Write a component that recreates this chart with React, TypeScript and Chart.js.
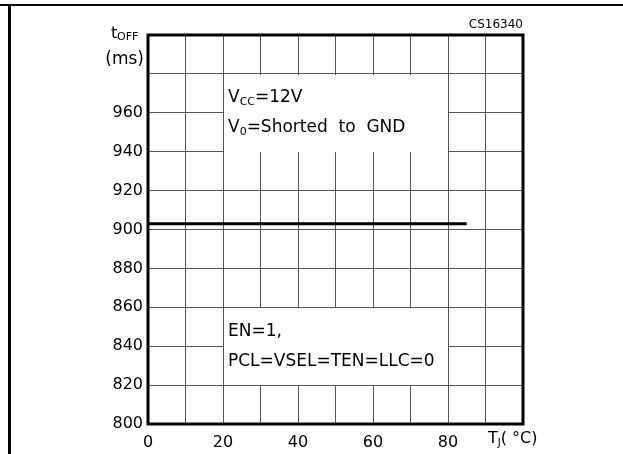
import React, { useEffect, useRef } from 'react';
import { Chart, registerables } from 'chart.js';

Chart.register(...registerables);

// ---- data ----
const temperatures = [0, 85];
const toffValues = [903, 903];
const xTickLabels = [0, 20, 40, 60, 80];
const yTickLabels = [800, 820, 840, 860, 880, 900, 920, 940, 960];
const xRange = [0, 100];
const yRange = [800, 1000];
const figureCode = 'CS16340';

type Part = { t: string; sub?: boolean };
const supplyNote: Part[][] = [
  [{ t: 'V' }, { t: 'CC', sub: true }, { t: '=12V' }],
  [{ t: 'V' }, { t: '0', sub: true }, { t: '=Shorted  to  GND' }],
];
const registerNote: Part[][] = [
  [{ t: 'EN=1,' }],
  [{ t: 'PCL=VSEL=TEN=LLC=0' }],
];

const FONT = "'DejaVu Sans', sans-serif";

function drawParts(ctx: CanvasRenderingContext2D, parts: Part[], x: number, y: number, size: number, subSize: number, subDy: number) {
  let cx = x;
  for (const p of parts) {
    ctx.font = `${p.sub ? subSize : size}px ${FONT}`;
    ctx.fillText(p.t, cx, p.sub ? y + subDy : y);
    cx += ctx.measureText(p.t).width;
  }
}

const annotations = {
  id: 'annotations',
  beforeDatasetsDraw(chart: any) {
    const { ctx, scales } = chart;
    const x = scales.x;
    const y = scales.y;
    const boxes = [
      { x0: 20, x1: 80, y0: 980, y1: 940, lines: supplyNote },
      { x0: 20, x1: 80, y0: 860, y1: 820, lines: registerNote },
    ];
    ctx.save();
    for (const b of boxes) {
      const l = Math.round(x.getPixelForValue(b.x0)) + 1;
      const r = Math.round(x.getPixelForValue(b.x1));
      const t = Math.round(y.getPixelForValue(b.y0)) + 1;
      const bt = Math.round(y.getPixelForValue(b.y1));
      ctx.fillStyle = '#fff';
      ctx.fillRect(l, t, r - l, bt - t);
      const cy = (y.getPixelForValue(b.y0) + y.getPixelForValue(b.y1)) / 2;
      ctx.fillStyle = '#000';
      ctx.textBaseline = 'middle';
      ctx.textAlign = 'left';
      b.lines.forEach((ln, i) => {
        drawParts(ctx, ln, l + 4, cy - 15 + i * 30, 17, 11, 4);
      });
    }
    ctx.restore();
  },
  afterDraw(chart: any) {
    const { ctx, chartArea } = chart;
    const { left, right, top, bottom } = chartArea;
    ctx.save();
    // plot frame
    ctx.strokeStyle = '#000';
    ctx.lineWidth = 3;
    ctx.strokeRect(left, top, right - left, bottom - top);
    // document frame lines
    ctx.lineWidth = 2;
    ctx.beginPath();
    ctx.moveTo(0, 5);
    ctx.lineTo(chart.width, 5);
    ctx.stroke();
    ctx.lineWidth = 3;
    ctx.beginPath();
    ctx.moveTo(9.5, 4);
    ctx.lineTo(9.5, chart.height);
    ctx.stroke();

    ctx.fillStyle = '#000';
    // figure code
    ctx.font = `12px ${FONT}`;
    ctx.textAlign = 'right';
    ctx.textBaseline = 'alphabetic';
    ctx.fillText(figureCode, right, top - 7);

    // y axis title
    ctx.textAlign = 'left';
    ctx.font = `16px ${FONT}`;
    ctx.fillText('t', left - 37, top + 3);
    ctx.font = `11px ${FONT}`;
    ctx.fillText('OFF', left - 31, top + 5);
    ctx.font = `17px ${FONT}`;
    ctx.textAlign = 'right';
    ctx.fillText('(ms)', left - 4, top + 29);

    // x axis title
    ctx.textAlign = 'left';
    drawParts(ctx, [{ t: 'T' }, { t: 'J', sub: true }, { t: '( °C)' }], right - 35, bottom + 19, 16, 10, 3);
    ctx.restore();
  },
};

export default function App() {
  const ref = useRef<HTMLCanvasElement | null>(null);
  useEffect(() => {
    if (!ref.current) return;
    const chart = new Chart(ref.current, {
      type: 'scatter',
      data: {
        datasets: [
          {
            data: temperatures.map((t, i) => ({ x: t, y: toffValues[i] })),
            showLine: true,
            borderColor: '#000',
            borderWidth: 3,
            pointRadius: 0,
            fill: false,
          },
        ],
      },
      options: {
        animation: false,
        responsive: false,
        devicePixelRatio: 1,
        layout: { padding: { top: 35, right: 100, left: 0, bottom: 0 } },
        plugins: { legend: { display: false }, tooltip: { enabled: false } },
        scales: {
          x: {
            type: 'linear',
            min: xRange[0],
            max: xRange[1],
            afterFit: (s: any) => { s.height = 30; },
            border: { display: false },
            grid: { color: '#555', lineWidth: 1, drawTicks: false },
            ticks: {
              stepSize: 10,
              autoSkip: false,
              maxRotation: 0,
              padding: 9,
              color: '#000',
              font: { family: FONT, size: 16 },
              callback: (v: any) => (xTickLabels.includes(Number(v)) ? String(v) : ''),
            },
          },
          y: {
            type: 'linear',
            min: yRange[0],
            max: yRange[1],
            afterFit: (s: any) => { s.width = 148; },
            border: { display: false },
            grid: { color: '#555', lineWidth: 1, drawTicks: false },
            ticks: {
              stepSize: 20,
              autoSkip: false,
              padding: 5,
              color: '#000',
              font: { family: FONT, size: 16 },
              callback: (v: any) => (yTickLabels.includes(Number(v)) ? String(v) : ''),
            },
          },
        },
      },
      plugins: [annotations],
    });
    return () => chart.destroy();
  }, []);
  return (
    <div style={{ position: 'fixed', left: 0, top: 0, width: 623, height: 454, background: '#fff' }}>
      <canvas ref={ref} width={623} height={454} style={{ display: 'block' }} />
    </div>
  );
}
